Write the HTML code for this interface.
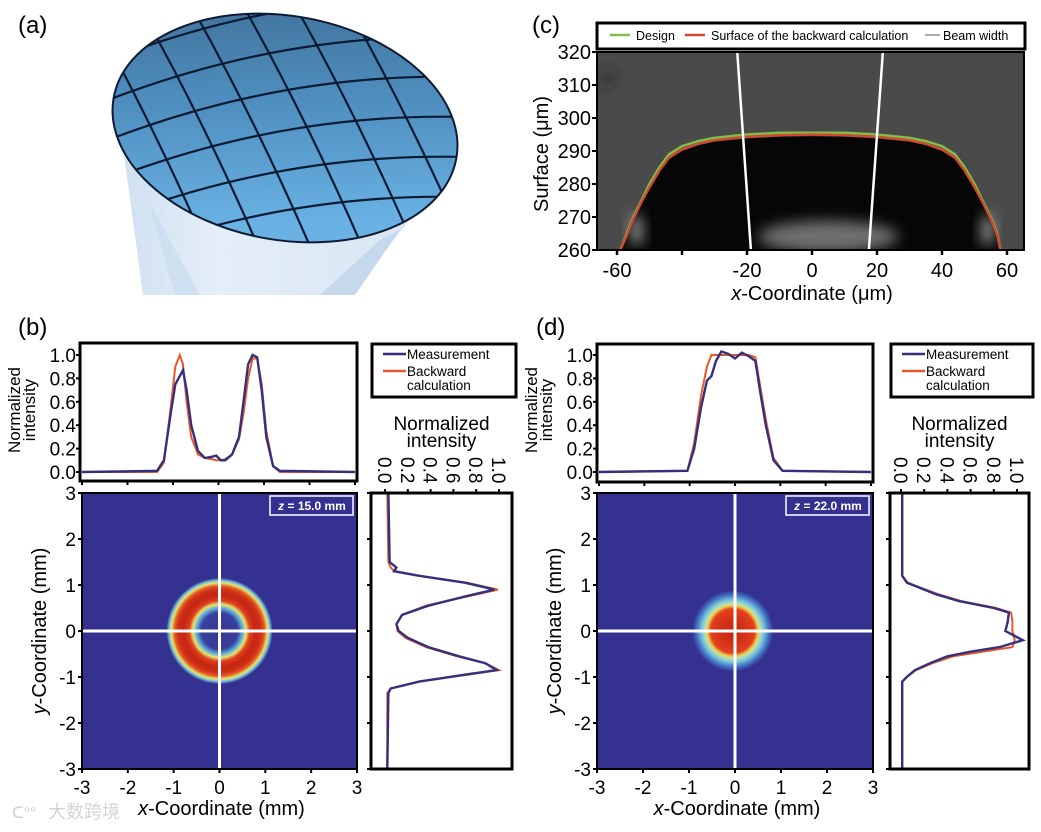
<!DOCTYPE html>
<html><head><meta charset="utf-8"><style>
html,body{margin:0;padding:0;background:#fff;}
svg{display:block;font-family:"Liberation Sans","Noto Sans CJK SC",sans-serif;}
</style></head><body>
<svg id="fig" width="1041" height="832" viewBox="0 0 1041 832" xmlns="http://www.w3.org/2000/svg">
<defs>
<linearGradient id="lensGrad" x1="0" y1="0" x2="0.3" y2="1">
<stop offset="0" stop-color="#3f6f96"/><stop offset="0.5" stop-color="#4f8fc0"/><stop offset="1" stop-color="#6ab2e4"/></linearGradient>
<linearGradient id="cylGrad" x1="0" y1="0" x2="1" y2="0">
<stop offset="0" stop-color="#cfe0f0"/><stop offset="0.3" stop-color="#e4eef8"/><stop offset="1" stop-color="#d6e4f2"/></linearGradient>
<clipPath id="lensClip"><ellipse cx="285" cy="128" rx="174" ry="112" transform="rotate(10 285 128)"/></clipPath>
<clipPath id="cClip"><rect x="597" y="52" width="427" height="198"/></clipPath>
<filter id="blur6" x="-100%" y="-100%" width="300%" height="300%"><feGaussianBlur stdDeviation="7"/></filter>
</defs>
<text x="18" y="33" font-size="24">(a)</text>
<g>
<polygon points="118,110 143,295 350,295 445,175" fill="url(#cylGrad)"/>
<polygon points="148,200 175,295 200,295" fill="#c4d8ec" opacity="0.6"/>
<polygon points="380,240 320,295 355,295 400,230" fill="#c6d9ec"/>
<ellipse cx="285" cy="128" rx="174" ry="112" transform="rotate(10 285 128)" fill="url(#lensGrad)" stroke="#0d1a33" stroke-width="2"/>
<g id="lensGrid" clip-path="url(#lensClip)" stroke="#0d1a33" stroke-width="2.2" fill="none"></g>
</g>
<text x="532" y="33" font-size="24">(c)</text>
<text x="18" y="335" font-size="24">(b)</text>
<text x="536" y="335" font-size="24">(d)</text>
<g id="root"></g>
<g fill="#d8d8d8">
<text x="12" y="818" font-size="16" fill="#d0d0d0">ᑕ°°</text>
<text x="48" y="818" font-size="18" fill="#d4d4d4">大数跨境</text>
</g>
</svg>
<script>
// ---------- data ----------
const bX = [-3,-1.35,-1.2,-1.05,-0.95,-0.85,-0.78,-0.7,-0.6,-0.45,-0.3,-0.15,-0.05,0.05,0.15,0.3,0.45,0.55,0.65,0.75,0.85,0.95,1.05,1.2,1.35,3];
const bMeas = [0,0.01,0.1,0.5,0.75,0.82,0.87,0.7,0.4,0.18,0.12,0.13,0.14,0.1,0.1,0.15,0.3,0.6,0.92,1.0,0.98,0.7,0.3,0.05,0.01,0];
const bBack = [0,0,0.08,0.55,0.9,1.0,0.92,0.6,0.3,0.15,0.12,0.11,0.1,0.1,0.11,0.15,0.28,0.5,0.8,0.97,0.97,0.75,0.35,0.05,0,0];
const bSideY = [3,1.5,1.38,1.3,1.2,1.05,0.9,0.75,0.55,0.35,0.15,0,-0.15,-0.35,-0.55,-0.7,-0.85,-0.95,-1.1,-1.25,-1.35,-3];
const bSideMeas = [0.03,0.04,0.1,0.08,0.3,0.7,0.96,0.7,0.38,0.15,0.1,0.12,0.2,0.38,0.65,0.88,0.98,0.7,0.3,0.05,0.03,0.02];
const bSideBack = [0.02,0.03,0.05,0.08,0.3,0.72,0.99,0.72,0.36,0.15,0.1,0.11,0.18,0.36,0.63,0.88,1.0,0.72,0.3,0.05,0.02,0.02];
const dX = [-3,-1.05,-0.9,-0.75,-0.62,-0.52,-0.42,-0.3,-0.15,0,0.15,0.3,0.45,0.55,0.68,0.85,1.05,3];
const dMeas = [0,0.01,0.2,0.55,0.78,0.82,0.95,1.03,1.01,0.97,1.02,0.99,0.95,0.7,0.4,0.1,0.01,0];
const dBack = [0,0.01,0.25,0.65,0.9,1.0,1.0,1.0,1.0,1.0,1.0,1.0,0.98,0.75,0.45,0.12,0.01,0];
const dSideY = [3,1.2,1.05,0.95,0.8,0.65,0.5,0.4,0.2,0,-0.2,-0.35,-0.45,-0.55,-0.7,-0.85,-1.0,-1.1,-3];
const dSideMeas = [0.01,0.01,0.05,0.15,0.3,0.5,0.8,0.93,0.92,0.9,1.05,0.85,0.6,0.4,0.25,0.12,0.05,0.01,0.01];
const dSideBack = [0.01,0.01,0.06,0.16,0.32,0.52,0.82,0.95,0.96,0.96,0.98,0.96,0.7,0.45,0.27,0.13,0.05,0.01,0.01];
const bRingR = [0,0.4,0.5,0.58,0.66,0.78,0.9,0.98,1.05,1.1,1.16];
const bRingV = [0.01,0.03,0.25,0.5,0.85,1.0,0.95,0.8,0.5,0.3,0];
const dRingR = [0,0.3,0.48,0.55,0.6,0.68,0.77,0.88];
const dRingV = [1.0,0.92,0.84,0.58,0.42,0.3,0.15,0];
const cX = [-59,-57,-55,-52.5,-50,-47,-44,-40,-35,-30,-20,-10,0,10,20,30,35,40,44,47,50,52.5,55,57,58];
const cDesign = [260,265,270,275,280,285,289,291.5,293,294,295,295.5,295.5,295.5,295,294,293,291.5,289,285,280,275,270,265,260];
const cBack = [260,264.5,269.5,274.5,279,284,288,290.5,292.2,293.3,294.3,294.8,295,294.8,294.3,293.3,292.2,290.5,288,284,279,274.5,269.5,264.5,260];
const beamLeft = [[-23,320],[-18.8,260]];
const beamRight = [[21.8,320],[17.5,260]];
const profTicks = ["0.0","0.2","0.4","0.6","0.8","1.0"];
const mmTicks = ["-3","-2","-1","0","1","2","3"];
const cYTicks = ["260","270","280","290","300","310","320"];
const cXTicks = ["-60","","-20","0","20","40","60"];

// ---------- helpers ----------
const NS = "http://www.w3.org/2000/svg";
const root = document.getElementById('root');
function mk(tag, attrs, parent){const e=document.createElementNS(NS,tag);for(const k in attrs)e.setAttribute(k,attrs[k]);(parent||root).appendChild(e);return e;}
function lin(d0,d1,r0,r1){return v=>r0+(v-d0)/(d1-d0)*(r1-r0);}
const cmapStops=[[0,"#343191"],[0.22,"#4f9fe0"],[0.38,"#9fe0d8"],[0.52,"#ece85a"],[0.68,"#f29a30"],[0.84,"#e2401e"],[1,"#c42612"]];
function jet(v){for(let i=1;i<cmapStops.length;i++){if(v<=cmapStops[i][0]){const a=cmapStops[i-1],b=cmapStops[i];const t=(v-a[0])/(b[0]-a[0]);const ca=parseInt(a[1].slice(1),16),cb=parseInt(b[1].slice(1),16);const ch=s=>Math.round(((ca>>s)&255)*(1-t)+((cb>>s)&255)*t);return `rgb(${ch(16)},${ch(8)},${ch(0)})`;}}return cmapStops[cmapStops.length-1][1];}
function txt(x,y,s,attrs,parent){const t=mk('text',Object.assign({x:x,y:y,'font-size':18},attrs||{}),parent);t.textContent=s;return t;}

// lens grid
(function(){const g=document.getElementById('lensGrid');
for(let i=-6;i<=6;i++){
 const p1=document.createElementNS(NS,'path');
 const x0=285+i*52;
 p1.setAttribute('d',`M${x0-120},${-40} Q${x0-20},${130} ${x0+60},${330}`);
 
 
 g.appendChild(p1);
 const p2=document.createElementNS(NS,'path');
 const y0=130+i*40;
 p2.setAttribute('d',`M${60},${y0+70} Q${285},${y0-30} ${520},${y0-10}`);
 
 
 g.appendChild(p2);
}})();

// ---------- profile panel ----------
function profilePanel(L,T,R,B,xs,meas,back,name){
 const g=mk('g',{});
 
 
 const sx=lin(-3,3,L+2,R-2), sy=lin(0,1,472,355);
 const pts=(a,b)=>a.map((v,i)=>sx(v).toFixed(1)+','+sy(b[i]).toFixed(1)).join(' ');
 const pb=mk('polyline',{points:pts(xs,back),fill:'none',stroke:'#e8582a','stroke-width':2},g);
 
 
 const pm=mk('polyline',{points:pts(xs,meas),fill:'none',stroke:'#34307e','stroke-width':2.4},g);
 
 
 const box=mk('rect',{x:L,y:T,width:R-L,height:B-T,fill:'none',stroke:'#000','stroke-width':3},g);
 
 
 profTicks.forEach((s,i)=>{const y=sy(i*0.2);
  mk('line',{x1:L-4,x2:L,y1:y,y2:y,stroke:'#000','stroke-width':2},g);
  const t=txt(L-4,y+7,s,{'text-anchor':'end','font-size':19},g);
  
  });
 mmTicks.forEach((s,i)=>{const x=sx(i-3);mk('line',{x1:x,x2:x,y1:B,y2:B+4,stroke:'#000','stroke-width':2},g);});
 const yl=mk('text',{transform:`translate(${L-54},410) rotate(-90)`,'text-anchor':'middle','font-size':17},g);
 
 
 yl.innerHTML='<tspan x="0" dy="-6">Normalized</tspan><tspan x="0" dy="15">intensity</tspan>';
}

// ---------- heatmap panel ----------
function heatPanel(L,T,R,B,ringR,ringV,cxmm,cymm,label,name,id){
 const g=mk('g',{});
 
 
 const sx=lin(-3,3,L,R), sy=lin(-3,3,B,T);
 const bg=mk('rect',{x:L,y:T,width:R-L,height:B-T,fill:jet(0)},g);
 
 
 const maxR=ringR[ringR.length-1];const rpx=sx(maxR)-sx(0);
 const grad=mk('radialGradient',{id:id,gradientUnits:'userSpaceOnUse',cx:sx(cxmm),cy:sy(cymm),r:rpx},document.querySelector('defs'));
 ringR.forEach((r,i)=>mk('stop',{offset:r/maxR,'stop-color':jet(ringV[i])},grad));
 const spot=mk('circle',{cx:sx(cxmm),cy:sy(cymm),r:rpx,fill:`url(#${id})`},g);
 
 
 const vl=mk('line',{x1:sx(0),x2:sx(0),y1:T,y2:B,stroke:'#fff','stroke-width':3},g);
 
 
 const hl=mk('line',{x1:L,x2:R,y1:sy(0),y2:sy(0),stroke:'#fff','stroke-width':3},g);
 
 
 const lb=mk('rect',{x:R-87,y:T+3,width:83,height:19,fill:'#343191',stroke:'#fff','stroke-width':1.5},g);
 
 
 const lt=mk('text',{x:R-45,y:T+17,'text-anchor':'middle','font-size':12,'font-weight':'bold',fill:'#fff'},g);
 lt.innerHTML=`<tspan font-style="italic">z</tspan> = ${label}`;
 
 
 mk('rect',{x:L,y:T,width:R-L,height:B-T,fill:'none',stroke:'#000','stroke-width':2},g);
 mmTicks.forEach((s,i)=>{const v=i-3;
  mk('line',{x1:L-4,x2:L,y1:sy(v),y2:sy(v),stroke:'#000','stroke-width':2},g);
  const ty=txt(L-6,sy(v)+7,s,{'text-anchor':'end','font-size':19},g);
  
  
  mk('line',{x1:sx(v),x2:sx(v),y1:B,y2:B+4,stroke:'#000','stroke-width':2},g);
  const tx=txt(sx(v),B+25,s,{'text-anchor':'middle','font-size':19},g);
  
  });
 const xt=mk('text',{x:(L+R)/2+2,y:B+46,'text-anchor':'middle','font-size':20},g);
 xt.innerHTML='<tspan font-style="italic">x</tspan>-Coordinate  (mm)';
 xt.setAttribute('xml:space','preserve');
 
 
 const yt=mk('text',{transform:`translate(${L-36},${(T+B)/2}) rotate(-90)`,'text-anchor':'middle','font-size':20},g);
 yt.innerHTML='<tspan font-style="italic">y</tspan>-Coordinate  (mm)';
 
 
}

// ---------- side panel ----------
function sidePanel(L,R,x0,x1,ys,meas,back,name){
 const T=493,B=769;
 const g=mk('g',{});
 
 
 const sx=lin(0,1,x0,x1), sy=lin(-3,3,B,T);
 const pts=(a,b)=>a.map((v,i)=>sx(b[i]).toFixed(1)+','+sy(v).toFixed(1)).join(' ');
 const pb=mk('polyline',{points:pts(ys,back),fill:'none',stroke:'#e8582a','stroke-width':2},g);
 
 
 const pm=mk('polyline',{points:pts(ys,meas),fill:'none',stroke:'#34307e','stroke-width':2.4},g);
 
 
 mk('rect',{x:L,y:T,width:R-L,height:B-T,fill:'none',stroke:'#000','stroke-width':3},g);
 mmTicks.forEach((s,i)=>{const y=sy(i-3);mk('line',{x1:L-4,x2:L,y1:y,y2:y,stroke:'#000','stroke-width':2},g);});
 profTicks.forEach((s,i)=>{const x=sx(i*0.2);
  mk('line',{x1:x,x2:x,y1:T-4,y2:T,stroke:'#000','stroke-width':2},g);
  const t=mk('text',{transform:`translate(${x-7},457) rotate(90)`,'font-size':19},g);
  t.textContent=s;
  
  });
 const ttl=mk('text',{x:(L+R)/2,y:430,'text-anchor':'middle','font-size':19},g);
 ttl.innerHTML=`<tspan x="${(L+R)/2}" dy="0">Normalized</tspan><tspan x="${(L+R)/2}" dy="17">intensity</tspan>`;
 
 
 const lg=mk('g',{},g);
 
 
 mk('rect',{x:L+1,y:344,width:R-L+3,height:53,fill:'#fff',stroke:'#000','stroke-width':3},lg);
 mk('line',{x1:L+12,x2:L+35,y1:354,y2:354,stroke:'#34307e','stroke-width':2.5},lg);
 const e1=txt(L+36,359,'Measurement',{'font-size':13.5},lg);
 
 
 mk('line',{x1:L+12,x2:L+35,y1:371,y2:371,stroke:'#e8582a','stroke-width':2.5},lg);
 const e2=txt(L+36,376,'Backward',{'font-size':13.5},lg);
 
 
 txt(L+36,390,'calculation',{'font-size':13.5},lg);
}

profilePanel(80,343,357,481,bX,bMeas,bBack,'panel-b-x-profile');
heatPanel(82,493,357,769,bRingR,bRingV,0,0,'15.0 mm','panel-b-heatmap','gradB');
sidePanel(371,512,385,499,bSideY,bSideMeas,bSideBack,'panel-b-y-profile');
profilePanel(597,344,873,482,dX,dMeas,dBack,'panel-d-x-profile');
heatPanel(597,493,873,769,dRingR,dRingV,-0.05,0,'22.0 mm','panel-d-heatmap','gradD');
sidePanel(890,1029,901,1017,dSideY,dSideMeas,dSideBack,'panel-d-y-profile');

// ---------- panel c ----------
(function(){
 const L=597,R=1024,T=52,B=250;
 const g=mk('g',{});
 
 
 const sx=lin(-60,60,617,1007), sy=lin(260,320,B,T);
 const img=mk('g',{'clip-path':'url(#cClip)'},g);
 
 
 mk('rect',{x:L,y:T,width:R-L,height:B-T,fill:'#4a4a4a'},img);
 const inner=cX.map((v,i)=>sx(v).toFixed(1)+','+sy(cBack[i]-0.5).toFixed(1)).join(' ');
 mk('polygon',{points:inner+` ${sx(58)},${B+5} ${sx(-59)},${B+5}`,fill:'#060606'},img);
 mk('ellipse',{cx:sx(5),cy:sy(264),rx:70,ry:16,fill:'#8a8a8a',filter:'url(#blur6)',opacity:0.8},img);
 mk('ellipse',{cx:sx(-54),cy:sy(266),rx:5,ry:16,fill:'#bbb',filter:'url(#blur6)'},img);
 mk('ellipse',{cx:sx(54),cy:sy(266),rx:5,ry:16,fill:'#bbb',filter:'url(#blur6)'},img);
 mk('circle',{cx:sx(-63),cy:sy(312),r:6,fill:'#222',filter:'url(#blur6)'},img);
 const pd=mk('polyline',{points:cX.map((v,i)=>sx(v).toFixed(1)+','+sy(cDesign[i]).toFixed(1)).join(' '),fill:'none',stroke:'#7fbf4a','stroke-width':2.5},img);
 
 
 const pr=mk('polyline',{points:cX.map((v,i)=>sx(v).toFixed(1)+','+sy(cBack[i]).toFixed(1)).join(' '),fill:'none',stroke:'#d04a30','stroke-width':2.5},img);
 
 
 [beamLeft,beamRight].forEach(bm=>{const l=mk('line',{x1:sx(bm[0][0]),y1:sy(bm[0][1]),x2:sx(bm[1][0]),y2:sy(bm[1][1]),stroke:'#fff','stroke-width':2.5},img);
  
  });
 mk('rect',{x:L,y:T,width:R-L,height:B-T,fill:'none',stroke:'#000','stroke-width':2},g);
 cYTicks.forEach((s,i)=>{const y=sy(260+i*10);
  mk('line',{x1:L-5,x2:L,y1:y,y2:y,stroke:'#000','stroke-width':2},g);
  const t=txt(L-6,y+7,s,{'text-anchor':'end','font-size':20},g);
  
  });
 cXTicks.forEach((s,i)=>{const x=sx(-60+i*20);
  mk('line',{x1:x,x2:x,y1:B,y2:B+5,stroke:'#000','stroke-width':2.5},g);
  const t=txt(x,B+27,s,{'text-anchor':'middle','font-size':20},g);
  
  });
 const xt=mk('text',{x:sx(0),y:B+50,'text-anchor':'middle','font-size':20},g);
 xt.innerHTML='<tspan font-style="italic">x</tspan>-Coordinate  (μm)';
 
 
 const yt=mk('text',{transform:`translate(548,${(T+B)/2+3}) rotate(-90)`,'text-anchor':'middle','font-size':20},g);
 yt.textContent='Surface (μm)';
 
 
 const lg=mk('g',{},g);
 
 
 mk('rect',{x:597,y:23,width:428,height:26,fill:'#fff',stroke:'#000','stroke-width':3},lg);
 mk('line',{x1:610,x2:630,y1:35,y2:35,stroke:'#7fbf4a','stroke-width':2.5},lg);
 const a=txt(636,40,'Design',{'font-size':12.5},lg);
 
 
 mk('line',{x1:685,x2:705,y1:35,y2:35,stroke:'#d04a30','stroke-width':2.5},lg);
 const b=txt(711,40,'Surface of the backward calculation',{'font-size':12.5},lg);
 
 
 mk('line',{x1:925,x2:940,y1:35,y2:35,stroke:'#aaa','stroke-width':2},lg);
 const c=txt(943,40,'Beam width',{'font-size':12.5},lg);
 
 
})();
</script>
</body></html>
